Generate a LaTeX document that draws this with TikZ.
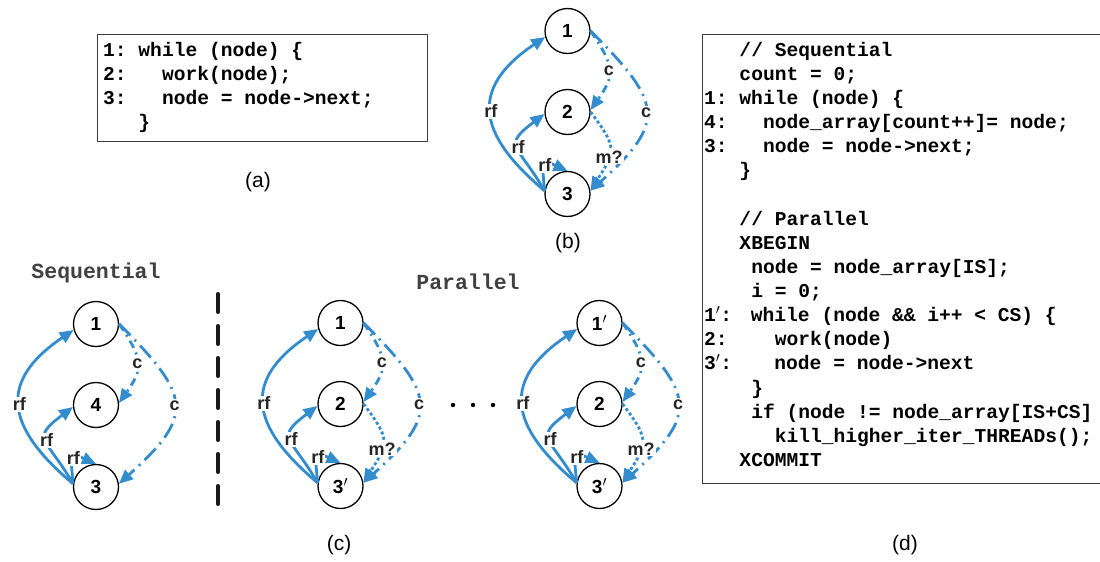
\documentclass[tikz,border=0pt]{standalone}
\usepackage{fontspec}
\setmainfont{Liberation Sans}
\newfontfamily\codefont{Liberation Mono}
\usetikzlibrary{arrows.meta,positioning}
\definecolor{edgeblue}{RGB}{50,140,205}
\definecolor{boxgray}{RGB}{60,60,60}
\tikzset{
  vtx/.style={circle,draw,line width=1.3pt,minimum size=45pt,inner sep=0pt,font=\bfseries\fontsize{19}{19}\selectfont},
  rfarrow/.style={draw=edgeblue,line width=2.8pt,-{Triangle[length=14pt,width=12pt]}},
  cshort/.style={rfarrow,dash pattern=on 8pt off 5pt on 2pt off 5pt},
  clong/.style={rfarrow,dash pattern=on 16pt off 6pt on 2pt off 6pt},
  mdots/.style={rfarrow,dash pattern=on 3pt off 2.5pt},
  elabel/.style={fill=white,inner sep=1pt,font=\bfseries\fontsize{18}{18}\selectfont,text=black!85},
  code/.style={anchor=base west,inner sep=0pt,font=\codefont\bfseries\frenchspacing\fontsize{19.6}{20}\selectfont},
  heading/.style={anchor=base,inner sep=0pt,text=black!75,font=\codefont\bfseries\frenchspacing\fontsize{21.5}{22}\selectfont},
  caption/.style={font=\fontsize{21}{21}\selectfont},
}

\begin{document}
\begin{tikzpicture}[x=1pt,y=1pt]
		\useasboundingbox (0,0) rectangle (1100,-562);
		% (a) the loop
		\draw[boxgray,line width=1pt] (97,-34) rectangle (427,-141);
		\node[code] (a1) at (103,-56) {1: while (node) \{};
		\node[code] (a2) at (103,-80) {2:\ \ \ work(node);};
		\node[code] (a3) at (103,-104.5) {3:\ \ \ node = node->next;};
		\node[code] (a4) at (103,-128) {\ \ \ \}};
		\node[caption] (capa) at (258,-182) {(a)};
		% dependence graphs
		\foreach \gx/\gy/\gn/\ta/\tb/\tc/\mq in {567.5/-31/b/1/2/3/1, 96/-324/s/1/4/3/0, 340.5/-323/p/1/2/3$^{\prime}$/1, 599.5/-323/q/1$^{\prime}$/2/3$^{\prime}$/1}{
			\node[vtx] (\gn1) at (\gx,\gy) {\ta};
			\node[vtx,on grid,below=81pt of \gn1] (\gn2) {\tb};
			\node[vtx,on grid,below=82pt of \gn2] (\gn3) {\tc};
			\draw[rfarrow] (\gn3.172) to[out=140,in=214,looseness=1.5] node[elabel]{rf} (\gn1.195);
			\draw[rfarrow] (\gn3.172) to[out=120,in=217,looseness=1.8] node[elabel]{rf} (\gn2.185);
			\draw[rfarrow] (\gn3.172) to[out=95,in=156,looseness=2.5] node[elabel]{rf} (\gn3.north);
			\draw[cshort] (\gn1.east) to[out=-56,in=55,looseness=1.4] node[elabel]{c} (\gn2.5);
			\draw[clong] (\gn1.east) to[out=-45,in=42,looseness=1.64] node[elabel]{c} (\gn3.8);
			\ifnum\mq=1
				\draw[mdots] (\gn2.east) to[out=-53,in=58,looseness=1.5] node[elabel,pos=0.6]{m?} (\gn3.8);
			\fi
		}
		\node[caption] (capb) at (568,-243) {(b)};
		% (c) sequential vs parallel
		\node[heading] (seq) at (96,-278) {Sequential};
		\node[heading] (par) at (468,-289) {Parallel};
		\draw[black!90,line width=3.5pt,line cap=round,dash pattern=on 18.5pt off 13.5pt] (218,-293.75) -- (218,-506);
		\fill (453,-405) circle (2.2pt);
		\fill (473,-405) circle (2.2pt);
		\fill (493,-405) circle (2.2pt);
		\node[caption] (capc) at (339,-545) {(c)};
		% (d) code
		\draw[boxgray,line width=1pt] (702,-34) rectangle (1110,-483);
		\node[code] (d0) at (704,-56) {\ \ \ // Sequential};
		\node[code] (d1) at (704,-80.15) {\ \ \ count = 0;};
		\node[code] (d2) at (704,-104.3) {1: while (node) \{};
		\node[code] (d3) at (704,-128.45) {4:\ \ \ node\_array[count++]= node;};
		\node[code] (d4) at (704,-152.6) {3:\ \ \ node = node->next;};
		\node[code] (d5) at (704,-176.75) {\ \ \ \}};
		\node[code] (d7) at (704,-225.05) {\ \ \ // Parallel};
		\node[code] (d8) at (704,-249.2) {\ \ \ XBEGIN};
		\node[code] (d9) at (704,-273.35) {\ \ \ \ node = node\_array[IS];};
		\node[code] (d10) at (704,-297.5) {\ \ \ \ i = 0;};
		\node[code] (d11) at (704,-321.65) {1\smash{$^{\prime}$}:\ \hspace{7pt}while (node \&\& i++ < CS) \{};
		\node[code] (d12) at (704,-345.8) {2:\ \ \ \ work(node)};
		\node[code] (d13) at (704,-369.95) {3\smash{$^{\prime}$}:\ \ \ \hspace{7pt}node = node->next};
		\node[code] (d14) at (704,-394.1) {\ \ \ \ \}};
		\node[code] (d15) at (704,-418.25) {\ \ \ \ if (node != node\_array[IS+CS]};
		\node[code] (d16) at (704,-442.4) {\ \ \ \ \ \ kill\_higher\_iter\_THREADs();};
		\node[code] (d17) at (704,-466.55) {\ \ \ XCOMMIT};
		\node[caption] (capd) at (905,-545) {(d)};
\end{tikzpicture}
\end{document}
